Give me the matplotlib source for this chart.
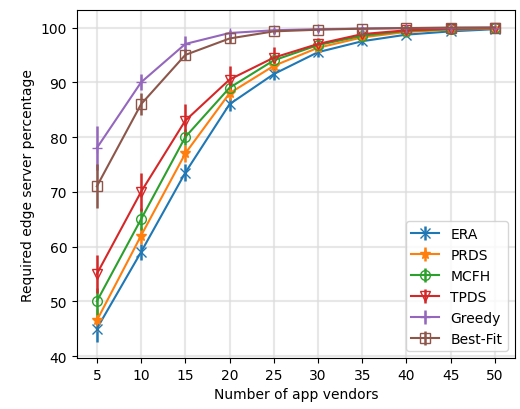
import matplotlib
matplotlib.use("Agg")
import matplotlib.pyplot as plt
import numpy as np

# Data
vendors = [5, 10, 15, 20, 25, 30, 35, 40, 45, 50]
labels = ["ERA", "PRDS", "MCFH", "TPDS", "Greedy", "Best-Fit"]

era = [45, 59, 73.5, 86, 91.5, 95.5, 97.5, 98.7, 99.3, 99.7]
prds = [46.5, 62, 77, 88, 93, 96.3, 98.2, 99.2, 99.6, 99.8]
mcfh = [50, 65, 80, 89, 94, 96.8, 98.5, 99.4, 99.7, 99.9]
tpds = [55, 70, 83, 90.5, 94.5, 97, 98.8, 99.5, 99.8, 99.9]
greedy = [78, 90, 97, 99, 99.5, 99.7, 99.8, 99.9, 99.9, 100]
bestfit = [71, 86, 95, 98, 99.3, 99.6, 99.8, 99.9, 100, 100]

era_err = [2.5, 1.5, 1.5, 1.2, 1.0, 0.8, 0.6, 0.5, 0.4, 0.3]
prds_err = [2.0, 1.5, 1.5, 1.2, 1.0, 0.8, 0.6, 0.5, 0.4, 0.3]
mcfh_err = [2.5, 2.0, 1.5, 1.2, 1.0, 0.8, 0.6, 0.5, 0.4, 0.3]
tpds_err = [3.5, 3.5, 3.0, 2.5, 2.0, 1.0, 0.7, 0.6, 0.5, 0.4]
greedy_err = [4.0, 1.5, 1.5, 0.6, 0.4, 0.3, 0.3, 0.2, 0.2, 0.2]
bestfit_err = [4.0, 2.0, 1.0, 0.8, 0.5, 0.4, 0.3, 0.2, 0.2, 0.2]

series = [era, prds, mcfh, tpds, greedy, bestfit]
errors = [era_err, prds_err, mcfh_err, tpds_err, greedy_err, bestfit_err]
markers = ["x", "*", "o", "v", "+", "s"]
colors = ["#1f77b4", "#ff7f0e", "#2ca02c", "#d62728", "#9467bd", "#8c564b"]

fig = plt.figure(figsize=(5.2, 4.1), dpi=100)
ax = fig.add_axes([0.148, 0.124, 0.842, 0.849])

for vals, err, m, c, lab in zip(series, errors, markers, colors, labels):
    filled = m in ("x", "*", "+")
    ax.errorbar(vendors, vals, yerr=err, marker=m, color=c, label=lab,
                markersize=7, markerfacecolor=c if filled else "none",
                markeredgecolor=c, linewidth=1.5, elinewidth=1.8)

ax.set_xticks(vendors)
ax.set_yticks([40, 50, 60, 70, 80, 90, 100])
ax.grid(True, color="#dddddd", linewidth=1.5, alpha=0.7)
ax.set_xlabel("Number of app vendors")
ax.set_ylabel("Required edge server percentage")
ax.legend(loc="lower right", fontsize=10)

fig.savefig("out.png", dpi=100)
